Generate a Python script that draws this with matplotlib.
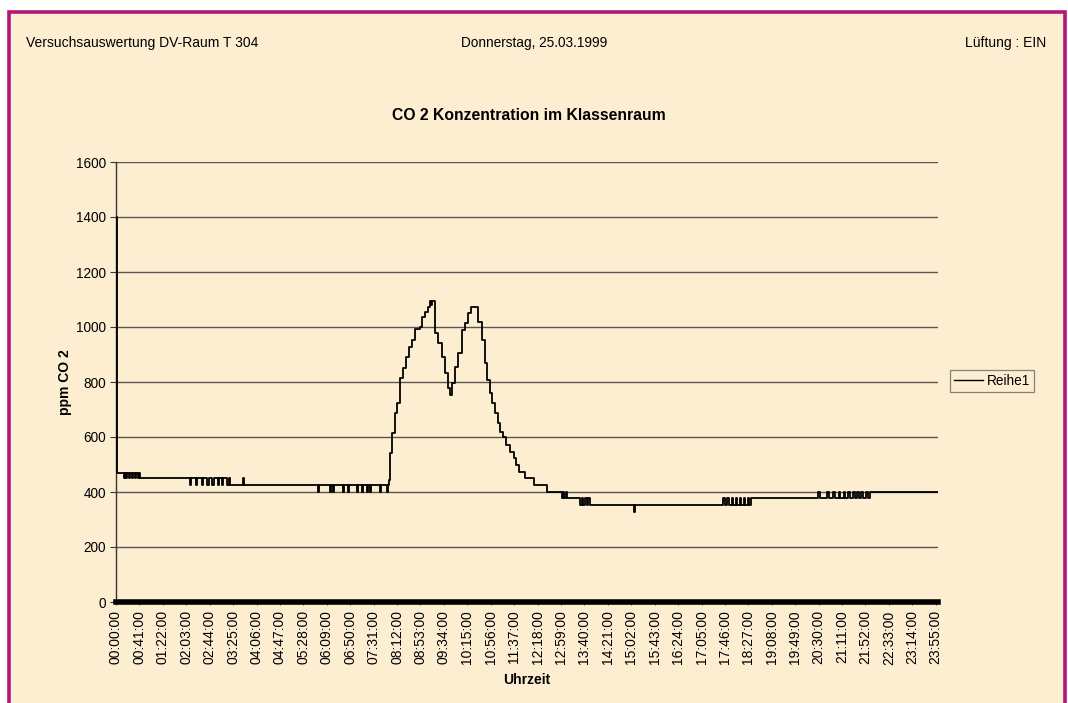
import matplotlib
matplotlib.use("Agg")
import matplotlib.pyplot as plt
from matplotlib.patches import Rectangle
from matplotlib.lines import Line2D

plt.rcParams['font.family'] = ['Liberation Sans', 'DejaVu Sans']

# ---------------- data (minutes after midnight, ppm CO2) ----------------
# step-wise breakpoints
base_minutes = [0, 1, 14, 16, 18, 20, 23, 25, 28, 30, 33, 35, 38, 40, 42,
                130, 132, 140, 142, 150, 153, 160, 162, 168, 171, 178, 180,
                186, 188, 195, 197, 200, 222, 224,
                354, 356, 375, 377, 380, 382, 397, 399, 406, 408, 422, 424,
                431, 433, 439, 441, 445, 447, 462, 464, 474, 476,
                478, 480, 484, 488, 492, 498, 503, 508, 513, 518, 523, 533,
                535, 541, 547, 550, 552, 554, 557, 558, 564, 570, 576, 582,
                585, 589, 593, 599, 605, 611, 617, 621, 628, 634, 640, 646,
                650, 655, 659, 664, 668, 672, 678, 683, 689, 696, 700, 706,
                716, 731, 754,
                781, 783, 785, 788, 790, 812, 815, 818, 821, 824, 827, 830,
                907, 909,
                1063, 1066, 1070, 1073, 1078, 1081, 1086, 1088, 1092, 1095,
                1099, 1102, 1106, 1109, 1112, 1115,
                1229, 1232, 1245, 1248, 1256, 1258, 1265, 1268, 1274, 1277,
                1282, 1285, 1290, 1293, 1298, 1301, 1305, 1308, 1313, 1316,
                1320, 1439]
base_ppm = [1400, 470, 450, 470, 450, 470, 450, 470, 450, 470, 450, 470, 450, 470, 450,
            425, 450, 425, 450, 425, 450, 425, 450, 425, 450, 425, 450,
            425, 450, 425, 450, 425, 450, 425,
            400, 425, 400, 425, 400, 425, 400, 425, 400, 425, 400, 425,
            400, 425, 400, 425, 400, 425, 400, 425, 400, 425,
            444, 541, 613, 687, 723, 814, 851, 892, 928, 953, 991, 1001,
            1037, 1055, 1074, 1096, 1080, 1096, 1096, 977, 941, 892, 832, 777,
            753, 795, 856, 904, 989, 1013, 1050, 1072, 1072, 1019, 953, 868,
            807, 759, 723, 686, 650, 619, 601, 571, 546, 522, 498, 474,
            450, 425, 401,
            377, 401, 377, 401, 377, 353, 377, 353, 377, 353, 377, 353,
            328, 353,
            377, 353, 377, 353, 377, 353, 377, 353, 377, 353,
            377, 353, 377, 353, 377, 377,
            401, 377, 401, 377, 401, 377, 401, 377, 401, 377,
            401, 377, 401, 377, 401, 377, 401, 377, 401, 377,
            401, 401]

tick_minutes = list(range(0, 1436, 41))
tick_labels = ["00:00:00", "00:41:00", "01:22:00", "02:03:00", "02:44:00", "03:25:00",
               "04:06:00", "04:47:00", "05:28:00", "06:09:00", "06:50:00", "07:31:00",
               "08:12:00", "08:53:00", "09:34:00", "10:15:00", "10:56:00", "11:37:00",
               "12:18:00", "12:59:00", "13:40:00", "14:21:00", "15:02:00", "15:43:00",
               "16:24:00", "17:05:00", "17:46:00", "18:27:00", "19:08:00", "19:49:00",
               "20:30:00", "21:11:00", "21:52:00", "22:33:00", "23:14:00", "23:55:00"]
y_ticks = [0, 200, 400, 600, 800, 1000, 1200, 1400, 1600]

# ---------------- figure ----------------
W, H = 1068, 703
fig = plt.figure(figsize=(W / 100, H / 100), dpi=100)
fig.patch.set_facecolor("white")
bg = "#fdeed2"
frame = Rectangle((9 / W, -6 / H), (1065 - 9) / W, (H - 12 + 6) / H,
                  transform=fig.transFigure, facecolor=bg, edgecolor="#b0187a",
                  linewidth=2.6, zorder=-10)
fig.patches.append(frame)

def fx(px):
    return px / W

def fy(py):
    return 1 - py / H

fig.text(fx(26), fy(43), "Versuchsauswertung DV-Raum T 304", fontsize=10,
         ha="left", va="center")
fig.text(fx(534), fy(43), "Donnerstag, 25.03.1999", fontsize=9.8,
         ha="center", va="center")
fig.text(fx(1046), fy(43), "Lüftung : EIN", fontsize=10, ha="right", va="center")
fig.text(fx(529), fy(116), "CO 2 Konzentration im Klassenraum", fontsize=11.3,
         fontweight="bold", ha="center", va="center")

left, right, top, bottom = 116, 938, 162, 602
ax = fig.add_axes([fx(left), fy(bottom), (right - left) / W, (bottom - top) / H])
ax.set_facecolor("none")
ax.set_zorder(1)

ax.plot(base_minutes, base_ppm, drawstyle="steps-post", color="black",
        linewidth=1.3, zorder=3)

ax.set_xlim(0, 1439)
ax.set_ylim(0, 1600)
ax.set_yticks(y_ticks)
ax.set_yticklabels([str(v) for v in y_ticks], fontsize=9.8)
ax.set_xticks(tick_minutes)
ax.set_xticklabels(tick_labels, rotation=90, fontsize=10)
for v in y_ticks[1:]:
    ax.axhline(v, color="#5a5550", linewidth=1.0, zorder=1)

for s in ["top", "right"]:
    ax.spines[s].set_visible(False)
ax.spines["left"].set_color("#3a3530")
ax.spines["left"].set_linewidth(1.0)
ax.spines["bottom"].set_color("black")
ax.spines["bottom"].set_linewidth(4)
ax.tick_params(axis="y", length=4, width=0.8, pad=3, colors="#3a3530", labelcolor="black")
ax.tick_params(axis="x", length=2, width=0.6, pad=4, colors="#3a3530", labelcolor="black")

ax.set_xlabel("Uhrzeit", fontsize=10, fontweight="bold", labelpad=6)
ax.set_ylabel("ppm CO 2", fontsize=10, fontweight="bold", labelpad=3)

leg = ax.legend([Line2D([0], [0], color="black", linewidth=1.0)], ["Reihe1"],
                loc="center left", bbox_to_anchor=((950 - left) / (right - left),
                                                   (602 - 381) / (bottom - top)),
                fontsize=9.8, frameon=True, fancybox=False, handlelength=2.1,
                handletextpad=0.3, borderpad=0.3, borderaxespad=0)
leg.get_frame().set_edgecolor("#6a6560")
leg.get_frame().set_facecolor(bg)
leg.get_frame().set_linewidth(0.9)

fig.savefig("out.png", dpi=100, facecolor=fig.get_facecolor())
